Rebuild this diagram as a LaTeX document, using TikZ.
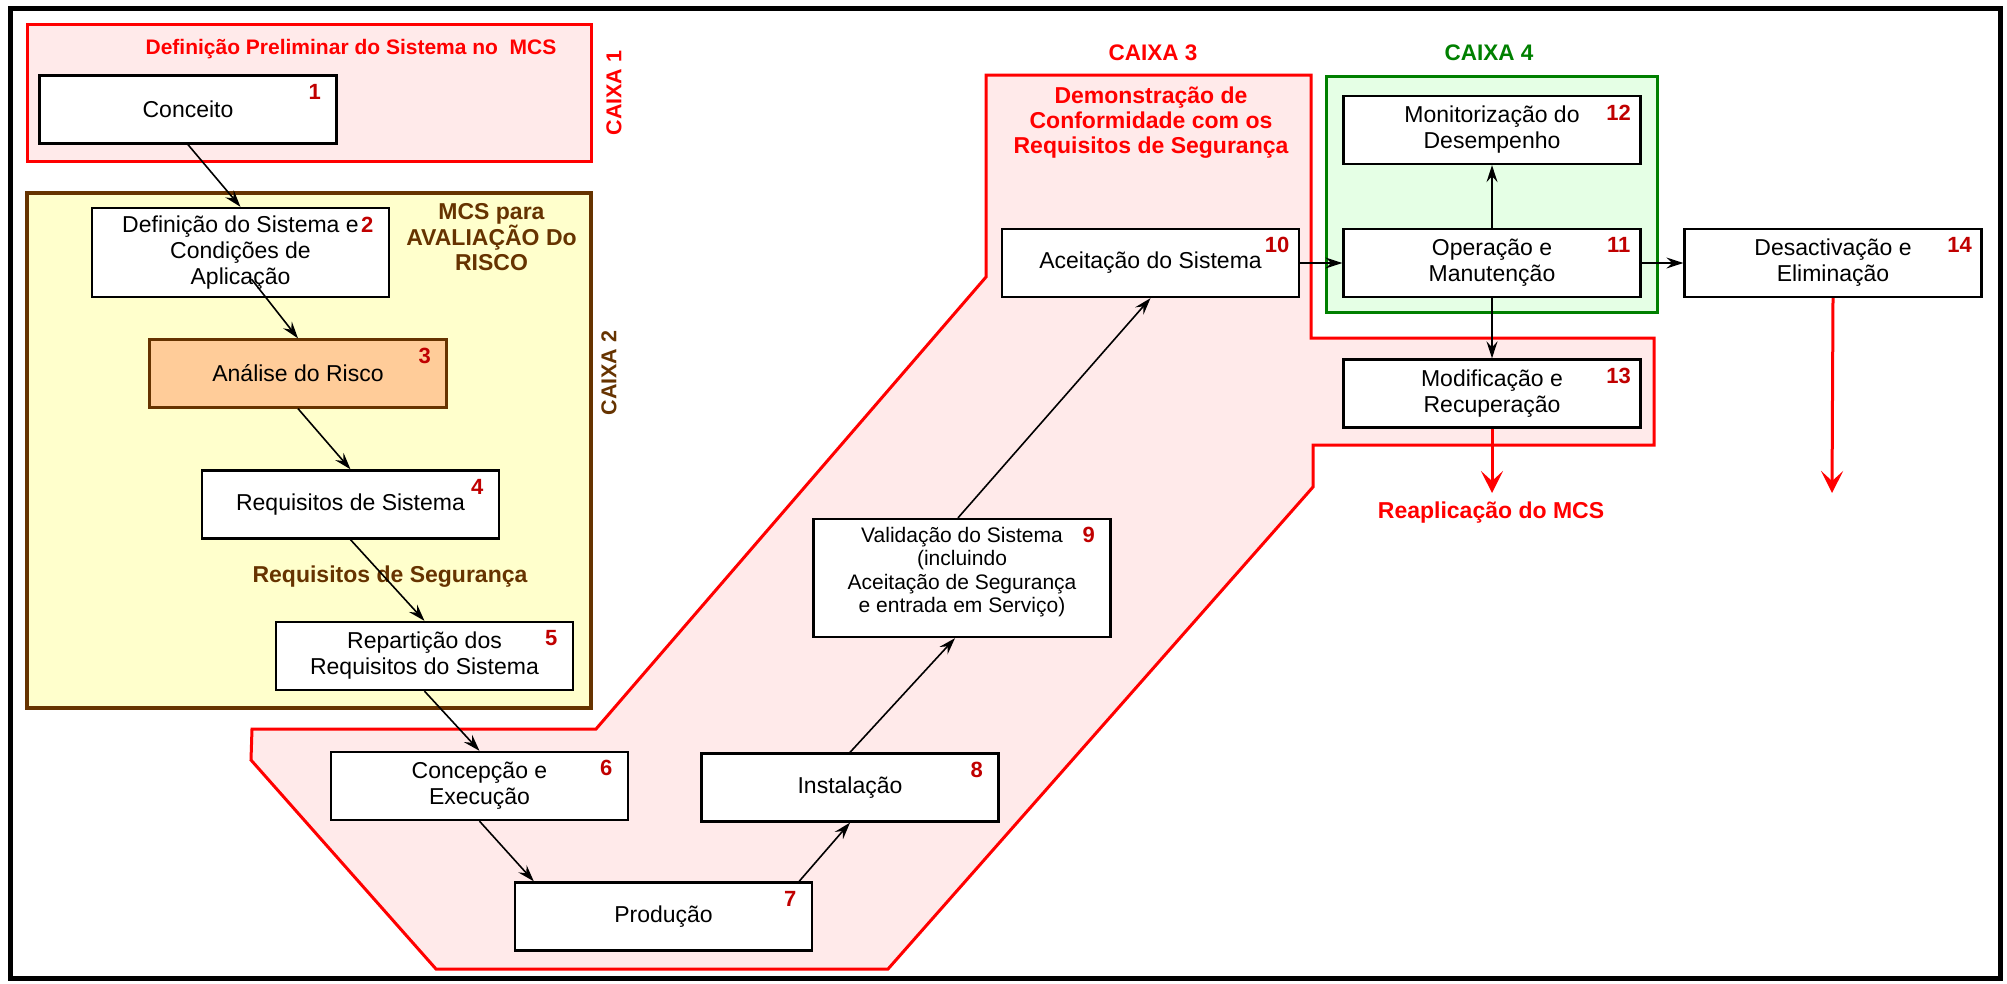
\documentclass[tikz,border=0pt]{standalone}
\usepackage{fontspec}
\setmainfont{Liberation Sans}
\usetikzlibrary{arrows.meta,calc}
\definecolor{pinkfill}{RGB}{255,234,234}
\definecolor{yelfill}{RGB}{255,255,204}
\definecolor{brownc}{RGB}{102,51,0}
\definecolor{orangefill}{RGB}{255,204,153}
\definecolor{greenfill}{RGB}{229,255,229}
\definecolor{greenc}{RGB}{0,128,0}
\definecolor{numred}{RGB}{192,0,0}
\begin{document}
\begin{tikzpicture}[x=1pt,y=-1pt,
  stagebox/.style={draw=black,line width=2.3pt,fill=white,minimum width=297pt,minimum height=68pt,inner sep=0pt,align=center,font=\fontsize{23}{26}\selectfont},
  numlab/.style={font=\bfseries\fontsize{22}{22}\selectfont,text=numred,inner sep=0pt},
  conn/.style={draw=black,line width=1.6pt,-{Stealth[length=17pt,width=11pt,inset=6pt]}},
  redarr/.style={draw=red,line width=3pt,-{Stealth[length=22pt,width=22pt,inset=10pt]}},
  boldlab/.style={font=\bfseries\fontsize{23}{25}\selectfont,align=center,inner sep=0pt},
  caixalab/.style={font=\bfseries\fontsize{22.5}{25}\selectfont,inner sep=0pt},
]
\useasboundingbox (0,0) rectangle (2007,983);
\fill[white] (0,0) rectangle (2007,983);

% containers
\draw[red,line width=3pt,fill=pinkfill,line join=miter]
  (986,75) -- (1311,75) -- (1311,338) -- (1654,338) -- (1654,445) -- (1313,445) -- (1313,487)
  -- (888,969) -- (436,969) -- (251,760) -- (252,729) -- (596,729) -- (986,277) -- cycle;
\draw[red,line width=3pt,fill=pinkfill] (27,24) rectangle (591,161);
\draw[brownc,line width=3.5pt,fill=yelfill] (27,193) rectangle (591,708);
\draw[greenc,line width=3pt,fill=greenfill] (1326,76) rectangle (1657,312);

% titles
\node[boldlab,text=red,font=\bfseries\fontsize{21}{25}\selectfont] (t1) at (351,49) {Definição Preliminar do Sistema no\ \ MCS};
\node[caixalab,text=red,rotate=90,font=\bfseries\fontsize{21.5}{25}\selectfont] (c1) at (614,93) {CAIXA 1};
\node[caixalab,text=brownc,rotate=90,font=\bfseries\fontsize{21.5}{25}\selectfont] (c2) at (609,373) {CAIXA 2};
\node[caixalab,text=red] (c3) at (1153,53) {CAIXA 3};
\node[caixalab,text=greenc] (c4) at (1489,53) {CAIXA 4};
\node[boldlab,text=brownc] (mcs) at (491.5,237) {MCS para\\AVALIAÇÃO Do\\RISCO};
\node[boldlab,text=brownc] (rs) at (390,577) {Requisitos de Segurança};
\node[boldlab,text=red] (dem) at (1151,123) {Demonstração de\\Conformidade com os\\Requisitos de Segurança};
\node[boldlab,text=red] (reap) at (1491,513) {Reaplicação do MCS};

% stage boxes
\node[stagebox] (n1) at (188,109.5) {Conceito};
\node[stagebox,minimum height=89pt] (n2) at (240.5,252.5) {Definição do Sistema e\\Condições de\\Aplicação};
\node[stagebox,draw=brownc,fill=orangefill] (n3) at (298,373.5) {Análise do Risco};
\node[stagebox] (n4) at (350.5,504.5) {Requisitos de Sistema};
\node[stagebox] (n5) at (424.5,656) {Repartição dos\\Requisitos do Sistema};
\node[stagebox] (n6) at (479.5,786) {Concepção e\\Execução};
\node[stagebox] (n7) at (663.5,916.5) {Produção};
\node[stagebox] (n8) at (850,787.5) {Instalação};
\node[stagebox,minimum height=118pt] (n9) at (962,578) {};
\node[align=center,inner sep=0pt,font=\fontsize{21}{23.3}\selectfont] (n9t) at ($(n9.center)+(0,-6)$) {Validação do Sistema\\(incluindo\\Aceitação de Segurança\\e entrada em Serviço)};
\node[stagebox] (n10) at (1150.5,263) {Aceitação do Sistema};
\node[stagebox] (n11) at (1492,263) {Operação e\\Manutenção};
\node[stagebox] (n12) at (1492,130) {Monitorização do\\Desempenho};
\node[stagebox] (n13) at (1492,393.5) {Modificação e\\Recuperação};
\node[stagebox] (n14) at (1833,263) {Desactivação e\\Eliminação};

% numbers
\foreach \i in {1,...,14}{
  \node[numlab] (l\i) at ($(n\i.north east)+(-23,17.5)$) {\i};
}

% connectors
\draw[conn] (n1.south) -- (n2.north);
\draw[conn] ($(n2.south)+(11,-19)$) -- (n3.north);
\draw[conn] (n3.south) -- (n4.north);
\draw[conn] (n4.south) -- (n5.north);
\draw[conn] (n5.south) -- (n6.north);
\draw[conn] (n6.south) -- ($(n7.north west)+(20,0)$);
\draw[conn] ($(n7.north east)+(-14,0)$) -- (n8.south);
\draw[conn] (n8.north) -- ($(n9.south)+(-7,0)$);
\draw[conn] ($(n9.north)+(-4,0)$) -- (n10.south);
\draw[conn] (n10.east) -- (n11.west);
\draw[conn] (n11.north) -- (n12.south);
\draw[conn] (n11.south) -- (n13.north);
\draw[conn] (n11.east) -- (n14.west);
\coordinate (e13) at (1492,493);
\coordinate (e14) at (1832,493);
\draw[redarr] (n13.south) -- (e13);
\draw[redarr] (n14.south) -- (e14);

% outer frame
\draw[black,line width=5pt] (10,8) rectangle (2000,978);
\end{tikzpicture}
\end{document}
